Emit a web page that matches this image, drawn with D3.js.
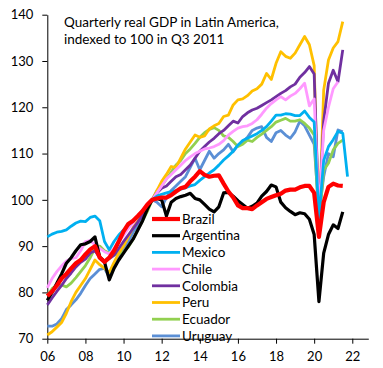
<!DOCTYPE html>
<html>
<head>
<meta charset="utf-8">
<script src="https://cdn.jsdelivr.net/npm/d3@7"></script>
<style>
  body { margin: 0; background: #fff; }
  svg { display: block; font-family: Lato, "Open Sans", sans-serif; }
</style>
</head>
<body>
<svg id="chart" width="383" height="368"></svg>
<script>
// quarterly index, Q3 2011 = 100, first point Q1 2006
const startYear = 6
const titleLines = ['Quarterly real GDP in Latin America,', 'indexed to 100 in Q3 2011']
const yTicks = [70, 80, 90, 100, 110, 120, 130, 140]
const xTicks = [6, 8, 10, 12, 14, 16, 18, 20, 22]

const brazil = [79.2, 80.2, 81.5, 83, 84, 85.2, 86.3, 87, 88.2, 89.3, 90, 87.5, 86.6, 87.5, 89, 91, 93.2, 94.8, 95.5, 96.5, 97.6, 99, 100,
  100.3, 100.5, 100.5, 101, 101.8, 102.5, 102.8, 104, 105, 106.2, 105.4, 105, 105.2, 105.3, 103.5, 101.8, 100.5, 98.8, 98.2, 98.2, 98,
  98.8, 99.5, 100.2, 100.6, 101, 101.3, 102, 102.2, 102.2, 102.7, 103, 103, 101.5, 92, 99.5, 102.8, 103.5, 103.1, 103]
const argentina = [78.3, 80, 82, 84, 86.3, 87.5, 89, 90.3, 90.5, 91, 92, 87.7, 86.6, 82.7, 85.2, 87, 88.5, 90, 91.5, 93.5, 95.5, 98, 100,
  100.3, 100, 96.5, 99.5, 100.3, 100.7, 101, 101.4, 100.3, 100, 99, 98, 97.4, 98.5, 101.5, 101.6, 100.8, 99.8, 99, 98.2, 98.6,
  99.3, 100.8, 101.8, 103.2, 102.8, 99.5, 98.3, 97.5, 96.8, 97.2, 97, 95.8, 92.5, 78, 88.5, 92.5, 94.6, 93.8, 97.4]
const mexico = [92, 92.6, 93, 93.2, 93.5, 94.3, 95, 95.4, 95.3, 96.2, 96.5, 95.5, 91, 89.2, 91, 92.4, 93.5, 94.5, 95.5, 96.5, 97.6, 98.8, 100,
  100.8, 101.2, 101.5, 101.8, 102, 102.3, 102.6, 103, 103.3, 104.2, 105, 105.8, 106.5, 107.5, 108.6, 109.5, 110.5, 111.8, 112.8, 113.3, 113.8,
  114.3, 115, 115.8, 117, 118.3, 118.3, 118.6, 118.5, 118.2, 118.2, 119.2, 117.8, 116.8, 96, 108.5, 111.5, 113, 114.8, 114.4, 105]
const chile = [81, 83, 84.5, 85.7, 86.8, 87.3, 87.5, 89, 91, 91.2, 90.3, 89.5, 88.8, 88.3, 89.5, 91, 92.3, 93.8, 95, 96.5, 97.8, 99, 100,
  101.5, 103, 104.5, 105.5, 106.5, 107.5, 108.5, 109.3, 110, 110.5, 111, 111.2, 111.5, 112, 112.8, 114, 114.8, 115.5, 115.8, 116, 116.5,
  117.3, 118.5, 119.8, 120.8, 121.6, 122.3, 121.6, 122.4, 123, 124, 125.2, 120.3, 121.8, 97, 115, 120, 124, 125.5]
const colombia = [77.3, 78.8, 80.2, 81.5, 83, 84.2, 85.5, 86.5, 87.2, 88.5, 89, 87.5, 86.8, 87.3, 88, 89.5, 91, 92.4, 93.8, 95.2, 96.8, 98.5, 100,
  101.5, 102.5, 103, 104, 105, 105.5, 106.5, 107.5, 109, 110.5, 111.5, 112.5, 113.3, 114.3, 115, 116, 117, 116.6, 118, 118.8, 119.4,
  119.8, 120.4, 121, 121.6, 122.3, 123, 123.6, 124.4, 125, 126.5, 127.5, 128.8, 127.2, 96, 117, 125.2, 128, 125.5, 132.4]
const peru = [70.8, 71.5, 72.5, 73.5, 75.5, 78, 80, 81.5, 83, 85, 87, 86, 85.2, 84.3, 86.5, 88.5, 90, 92, 94, 95.5, 97.5, 99, 100,
  102, 104, 105.5, 107.2, 107, 109, 111, 112.5, 114, 113.5, 113.8, 115.3, 116, 116.5, 118, 118.3, 120.5, 121.6, 121.8, 122.5, 123.5,
  124, 125, 127.3, 126, 129.5, 132, 131, 130.6, 131.7, 133.5, 135.3, 133.5, 129, 93, 123.7, 130.2, 132.8, 134.2, 138.5]
const ecuador = [79.3, 80.8, 81.6, 81.6, 81.2, 82, 83.2, 84.5, 85.8, 87.5, 89.5, 90, 89, 88.5, 88.2, 88.3, 88.8, 89.8, 91.5, 93.5, 95.5, 97.5, 100,
  102, 103, 104.5, 106, 107.5, 108.5, 110, 111, 112.2, 113.5, 114.5, 115.2, 115.6, 115, 113.8, 113.5, 112.6, 111.5, 112, 112.9, 112.6,
  113.5, 114.2, 115, 115.8, 116.8, 117.2, 117.6, 117, 117, 117.3, 116.5, 115.5, 114, 95, 106.4, 107.9, 110.8, 112.2, 112.9]
const uruguay = [72.7, 72.7, 73.2, 74.3, 76.3, 77.3, 78.4, 79.8, 81.5, 83, 84, 85, 85.2, 83.3, 85.8, 87.5, 89.3, 91, 93, 94.5, 96.5, 98.5, 100,
  99.5, 98.5, 100.5, 102, 103, 104, 105, 107, 109, 106.5, 108.5, 110.5, 109, 110, 110.8, 112, 110.4, 111.8, 112.5, 113.5, 115,
  115.5, 115.8, 113.5, 112.6, 114.5, 115, 114, 113.3, 114.7, 117, 116, 114, 112, 97, 105, 110, 109.3, 115.1, 114.7]

const countries = ['Brazil', 'Argentina', 'Mexico', 'Chile', 'Colombia', 'Peru', 'Ecuador', 'Uruguay']
const seriesValues = [brazil, argentina, mexico, chile, colombia, peru, ecuador, uruguay]
const colors = ['#ff0000', '#000000', '#00b0f0', '#ff99ff', '#7030a0', '#ffc000', '#92d050', '#5b8fd5']
const widths = [4.2, 3.2, 2.8, 2.8, 2.8, 2.8, 2.8, 2.8]

const series = countries.map((name, k) => ({
  name: name,
  color: colors[k],
  width: widths[k],
  values: seriesValues[k].map((v, i) => ({ t: startYear + i / 4, v: v }))
}))

const svg = d3.select('#chart')

const xScale = d3.scaleLinear()
  .domain([6, 22.84])
  .range([47.3, 368.3])
const yScale = d3.scaleLinear()
  .domain([70, 140])
  .range([338.7, 14.7])

const lineGen = d3.line()
  .x(d => xScale(d.t))
  .y(d => yScale(d.v))

// y axis
const yAxis = d3.axisLeft(yScale)
  .tickValues(yTicks)
  .tickSize(5)
  .tickSizeOuter(0)
  .tickPadding(9)
svg.append('g')
  .attr('class', 'y-axis')
  .attr('transform', `translate(${xScale(6)},0)`)
  .call(yAxis)

// x axis
const xAxis = d3.axisBottom(xScale)
  .tickValues(xTicks)
  .tickFormat(d3.format('02d'))
  .tickSize(5)
  .tickSizeOuter(0)
  .tickPadding(8)
svg.append('g')
  .attr('class', 'x-axis')
  .attr('transform', `translate(0,${yScale(70)})`)
  .call(xAxis)

svg.selectAll('.x-axis text, .y-axis text')
  .attr('font-family', 'Lato, sans-serif')
  .attr('font-size', 13)
  .attr('fill', '#000')
svg.selectAll('.domain, .tick line').attr('stroke', '#000')

// lines, Brazil drawn last so it sits on top
svg.append('g')
  .selectAll('path')
  .data(series.slice().reverse())
  .join('path')
  .attr('d', d => lineGen(d.values))
  .attr('fill', 'none')
  .attr('stroke', d => d.color)
  .attr('stroke-width', d => d.width)
  .attr('stroke-linejoin', 'round')

// title
svg.append('text')
  .attr('x', 64)
  .attr('y', 26.5)
  .attr('font-size', 13.5)
  .selectAll('tspan')
  .data(titleLines)
  .join('tspan')
  .attr('x', 64)
  .attr('dy', (d, i) => i ? 17.5 : 0)
  .text(d => d)

// legend
const legend = svg.append('g')
  .selectAll('g')
  .data(series)
  .join('g')
  .attr('transform', (d, i) => `translate(152,${219 + i * 16.7})`)
legend.append('line')
  .attr('x1', 0)
  .attr('x2', 28)
  .attr('stroke', d => d.color)
  .attr('stroke-width', d => d.width)
legend.append('text')
  .attr('x', 30)
  .attr('dy', '0.35em')
  .attr('font-size', 13.5)
  .text(d => d.name)
</script>
</body>
</html>
